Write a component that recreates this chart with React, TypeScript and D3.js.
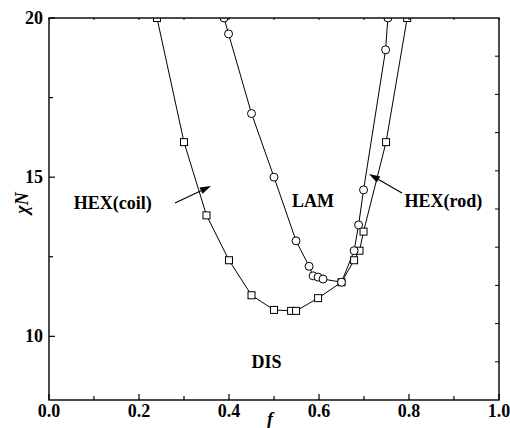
import React from "react";
import * as d3 from "d3";

const squareF = [0.24, 0.3, 0.35, 0.4, 0.45, 0.5, 0.538, 0.549, 0.598, 0.65, 0.678, 0.69, 0.699, 0.749, 0.796];
const squareChi = [20, 16.1, 13.8, 12.39, 11.29, 10.83, 10.8, 10.8, 11.2, 11.7, 12.39, 12.69, 13.29, 16.1, 20];
const circleF = [0.389, 0.399, 0.45, 0.5, 0.549, 0.578, 0.587, 0.598, 0.609, 0.65, 0.678, 0.688, 0.699, 0.748, 0.753];
const circleChi = [20, 19.5, 17.0, 15.0, 13.0, 12.2, 11.9, 11.86, 11.8, 11.7, 12.69, 13.5, 14.6, 19.0, 20];
const xTickLabels = ["0.0", "0.2", "0.4", "0.6", "0.8", "1.0"];
const yTickLabels = ["10", "15", "20"];
const phaseLabels = [
  { text: "HEX(coil)", f: 0.055, chi: 14.0 },
  { text: "LAM", f: 0.54, chi: 14.05 },
  { text: "HEX(rod)", f: 0.79, chi: 14.05 },
  { text: "DIS", f: 0.45, chi: 9.0 },
];

const W = 510, H = 428;
const L = 49, R = 499, T = 18, B = 400;
const FONT = "Liberation Serif, Times New Roman, Times, serif";

export default function App() {
  const x = d3.scaleLinear().domain([0, 1]).range([L, R]);
  const y = d3.scaleLinear().domain([8, 20]).range([B, T]);
  const yR = d3.scaleLinear().domain([0, 10]).range([B, T]);

  const sq = squareF.map((f, i) => [f, squareChi[i]] as [number, number]);
  const ci = circleF.map((f, i) => [f, circleChi[i]] as [number, number]);
  const line = d3.line<[number, number]>().x(d => x(d[0])).y(d => y(d[1]));

  const xTicks = d3.range(0, 11).map(i => i / 10);
  const yTicks = [10, 12.5, 15, 17.5, 20];
  const rTicks = d3.range(1, 10);

  const txt = { fontFamily: FONT, fontWeight: 700 as const };

  const arrow = (x1: number, y1: number, x2: number, y2: number, key: string) => {
    const ang = Math.atan2(y2 - y1, x2 - x1);
    const len = 11, w = 3.5;
    const bx = x2 - len * Math.cos(ang), by = y2 - len * Math.sin(ang);
    const px = -Math.sin(ang) * w, py = Math.cos(ang) * w;
    return (
      <g key={key}>
        <line x1={x1} y1={y1} x2={bx} y2={by} stroke="#000" strokeWidth={1.2} />
        <path d={`M${x2},${y2}L${bx + px},${by + py}L${bx - px},${by - py}Z`} fill="#000" />
      </g>
    );
  };

  return (
    <svg width={W} height={H} style={{ position: "absolute", left: 0, top: 0, background: "#fff" }}>
      <defs>
        <clipPath id="plot">
          <rect x={L} y={T} width={R - L} height={B - T} />
        </clipPath>
      </defs>
      <g clipPath="url(#plot)">
        <path d={line(sq) || ""} fill="none" stroke="#000" strokeWidth={1} />
        <path d={line(ci) || ""} fill="none" stroke="#000" strokeWidth={1} />
        {sq.map((d, i) => (
          <rect key={"s" + i} x={x(d[0]) - 3.5} y={y(d[1]) - 3.5} width={7} height={7} fill="#fff" stroke="#000" strokeWidth={1} />
        ))}
        {ci.map((d, i) => (
          <circle key={"c" + i} cx={x(d[0])} cy={y(d[1])} r={4} fill="#fff" stroke="#000" strokeWidth={1} />
        ))}
      </g>
      <rect x={L} y={T} width={R - L} height={B - T} fill="none" stroke="#000" strokeWidth={1.4} />
      {xTicks.map((t, i) => {
        const major = i % 2 === 0;
        return (
          <g key={"xt" + i}>
            <line x1={x(t)} x2={x(t)} y1={B} y2={B - (major ? 6 : 4)} stroke="#000" strokeWidth={1.2} />
            <line x1={x(t)} x2={x(t)} y1={T} y2={T + 2} stroke="#000" strokeWidth={1} />
          </g>
        );
      })}
      {yTicks.map((t, i) => {
        const major = i % 2 === 0;
        return <line key={"yt" + i} x1={L} x2={L + (major ? 6 : 4)} y1={y(t)} y2={y(t)} stroke="#000" strokeWidth={1.2} />;
      })}
      {rTicks.map(t => (
        <line key={"rt" + t} x1={R} x2={R - 4} y1={yR(t)} y2={yR(t)} stroke="#000" strokeWidth={1} />
      ))}
      {xTickLabels.map(s => (
        <text key={"xl" + s} x={x(+s)} y={417} textAnchor="middle" fontSize={18} style={txt}>{s}</text>
      ))}
      {yTickLabels.map(s => (
        <text key={"yl" + s} x={43} y={y(+s) + 6} textAnchor="end" fontSize={18} style={txt}>{s}</text>
      ))}
      <text x={270} y={425} textAnchor="middle" fontSize={18} style={{ ...txt, fontStyle: "italic" }}>f</text>
      <text transform="translate(28,203) rotate(-90)" textAnchor="middle" fontSize={18} style={{ ...txt, fontStyle: "italic" }}>χN</text>
      {phaseLabels.map(p => (
        <text key={p.text} x={x(p.f)} y={y(p.chi)} fontSize={18} style={txt}>{p.text}</text>
      ))}
      {arrow(175, 203, 211, 186, "a1")}
      {arrow(402, 193, 369, 174, "a2")}
    </svg>
  );
}
